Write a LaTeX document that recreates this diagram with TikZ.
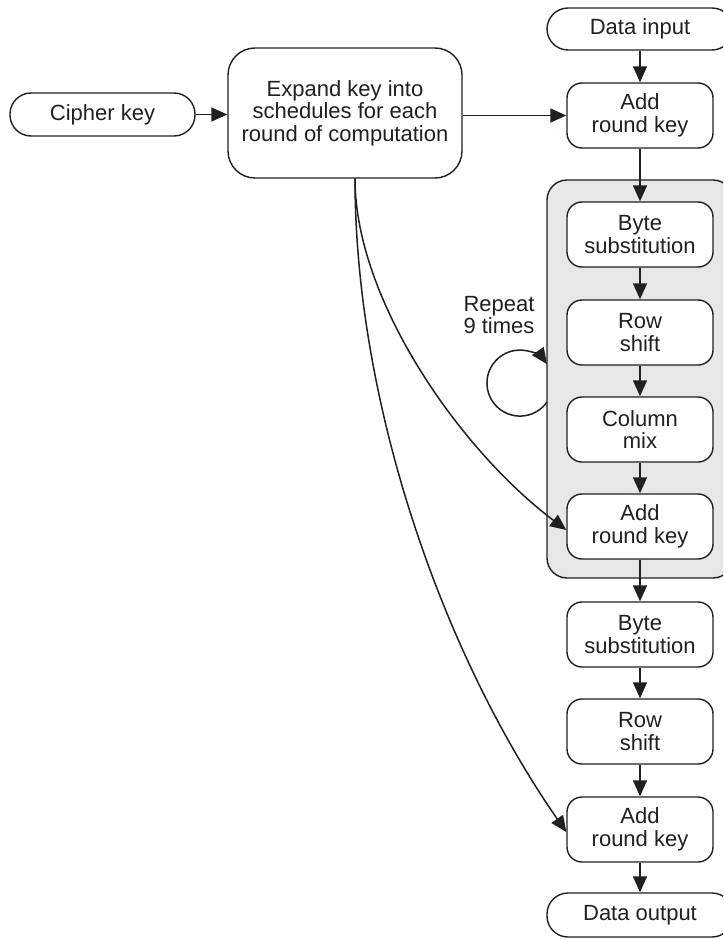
\documentclass[tikz,border=0pt]{standalone}
\usepackage{fontspec}
\setmainfont{Liberation Sans}
\usetikzlibrary{arrows.meta}

\definecolor{ink}{HTML}{231F20}
\definecolor{panelgray}{HTML}{E6E7E8}

\begin{document}
\begin{tikzpicture}[x=1pt,y=-1pt,
  every node/.style={text=ink, font=\fontsize{22}{22.5}\selectfont, align=center, inner sep=0pt},
  proc/.style={draw=ink, line width=1.4pt, fill=white, rounded corners=15pt,
               minimum width=146pt, minimum height=65pt},
  term/.style={draw=ink, line width=1.4pt, fill=white, rounded corners=21pt,
               minimum height=43pt},
  panel/.style={draw=ink, line width=1.4pt, fill=panelgray, rounded corners=20pt},
  flow/.style={draw=ink, line width=1.5pt, -{Triangle[length=16pt,width=14pt]}}
]
\useasboundingbox (0,0) rectangle (723,939);
\clip (0,0) rectangle (723,939);

% repeated round, shaded panel
\node[panel, minimum width=186pt, minimum height=398pt] (loopbox) at (640,379) {};

% key schedule side
\node[term, minimum width=185pt] (cipher) at (102.5,114.5) {Cipher key};
\node[draw=ink, line width=1.4pt, fill=white, rounded corners=27pt,
      minimum width=234pt, minimum height=130pt] (expand) at (345,113)
      {Expand key into\\schedules for each\\round of computation};

% data path
\node[term, minimum width=186pt, minimum height=42pt] (datain) at (640,29) {Data input};
\node[proc] (ark1) at (640,115.5) {Add\\round key};

\node[proc] (bs1)  at (640,234.5) {Byte\\substitution};
\node[proc] (rs1)  at (640,332.5) {Row\\shift};
\node[proc] (cm1)  at (640,429.5) {Column\\mix};
\node[proc] (ark2) at (640,526.5) {Add\\round key};

\node[proc] (bs2)  at (640,634.5) {Byte\\substitution};
\node[proc] (rs2)  at (640,731.5) {Row\\shift};
\node[proc] (ark3) at (640,829.5) {Add\\round key};
\node[term, minimum width=186pt, minimum height=44pt] (dataout) at (640,915) {Data output};

\node (repeat) at (499,315) {Repeat\\9 times};

% straight connectors
\draw[flow] (cipher.east) -- (cipher.east -| expand.west);
\draw[flow] (expand.east |- ark1.west) -- (ark1.west);
\draw[flow] (datain) -- (ark1);
\draw[flow] (ark1) -- (bs1);
\draw[flow] (bs1) -- (rs1);
\draw[flow] (rs1) -- (cm1);
\draw[flow] (cm1) -- (ark2);
\draw[flow] (ark2) -- (bs2);
\draw[flow] (bs2) -- (rs2);
\draw[flow] (rs2) -- (ark3);
\draw[flow] (ark3) -- (dataout);

% round keys fed from the schedule
\coordinate (tap) at ([xshift=10pt]expand.south);
\coordinate (k2) at ([yshift=-3.5pt]ark2.west);
\coordinate (k3) at ([yshift=-2.5pt]ark3.west);
\draw[flow] (tap) .. controls (355,300) and (460,450) .. (k2);
\draw[flow] (tap) .. controls (355,400) and (440,650) .. (k3);

% repeat loop on the panel edge (arc angles are in page orientation)
\coordinate (loopin) at (547,402);
\draw[flow] (loopin) arc[start angle=-35, end angle=-325, radius=33pt];
\end{tikzpicture}
\end{document}
